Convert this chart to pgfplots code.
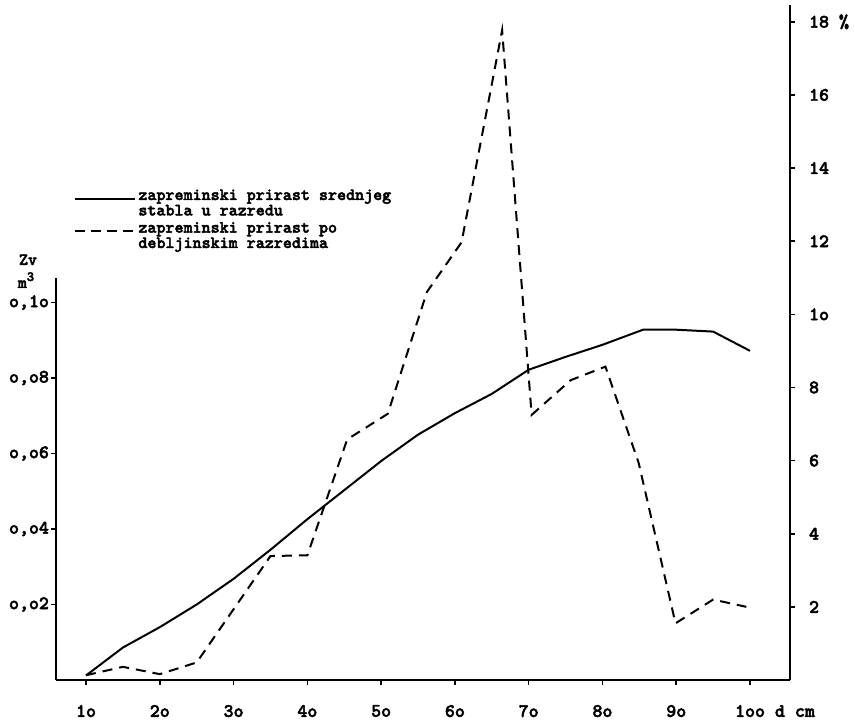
\documentclass[border=0pt]{standalone}
\usepackage{fontspec}
\newfontfamily\tw{lmmonolt10-bold}[Extension=.otf, FakeBold=2.5]
\usepackage{pgfplots}
\pgfplotsset{compat=1.18}
\begin{document}
\begin{tikzpicture}[font=\tw]
\useasboundingbox (0,0) rectangle (427.5pt,363.5pt);
\pgfplotsset{
  common/.style={
    at={(28pt,23.5pt)}, anchor=south west,
    scale only axis, width=367pt,
    xmin=5.93, xmax=105.42,
    axis line style={-, line width=1pt},
    tick style={line width=0.8pt, black},
    tick align=outside,
    major tick length=2.5pt,
    ticklabel style={font=\fontsize{9.5}{10}\selectfont\tw},
  }
}
\begin{axis}[common, height=201pt, ymin=0, ymax=0.1065,
  axis x line=none, axis y line*=left,
  ytick={0.02,0.04,0.06,0.08,0.10},
  yticklabels={{o,o2},{o,o4},{o,o6},{o,o8},{o,1o}},
  yticklabel style={xshift=2.5pt},
]
\addplot[black, line width=1pt] coordinates {
(10,0.0012) (15,0.0086) (20,0.0140) (25,0.0200) (30,0.0268) (35,0.0345)
(40,0.0426) (45,0.0503) (50,0.0580) (55,0.0650) (60,0.0707) (65,0.0758)
(70,0.0822) (75,0.0856) (80,0.0888) (85.5,0.0928) (90,0.0928) (95,0.0923) (100,0.0872)};
\end{axis}
\begin{axis}[common, height=337.5pt, ymin=0, ymax=18.46,
  axis x line*=bottom, axis y line*=right,
  xtick={10,20,...,100},
  xticklabels={1o,2o,3o,4o,5o,6o,7o,8o,9o,1oo\rlap{ d cm}},
  xticklabel style={yshift=-6.5pt},
  ytick={2,4,...,18},
  yticklabels={2,4,6,8,1o,12,14,16,18 \%},
  yticklabel style={xshift=3.5pt},
]
\addplot[black, line width=1pt, dash pattern=on 5pt off 3.5pt] coordinates {
(10,0.13) (15,0.36) (20,0.16) (25,0.48) (35,3.39) (40,3.41) (45.4,6.58)
(50.9,7.28) (56.2,10.61) (60.9,11.97) (66.4,17.77) (70.4,7.25) (75.7,8.20)
(80.4,8.57) (84.9,5.94) (89.9,1.55) (95,2.20) (99.5,2.00)};
\end{axis}
\begin{scope}[font=\fontsize{8.6}{9}\selectfont\tw]
\draw[line width=1pt] (37.5pt,264pt) -- (67.5pt,264pt);
\node[anchor=base west, inner sep=0] at (69pt,263.5pt) {zapreminski prirast srednjeg};
\node[anchor=base west, inner sep=0] at (69pt,255.8pt) {stabla u razredu};
\draw[line width=1pt, dash pattern=on 5pt off 3pt] (37.5pt,248pt) -- (67.5pt,248pt);
\node[anchor=base west, inner sep=0] at (69pt,247.2pt) {zapreminski prirast po};
\node[anchor=base west, inner sep=0] at (69pt,239.5pt) {debljinskim razredima};
\node[anchor=base, inner sep=0] at (14pt,231pt) {Zv};
\node[anchor=base, inner sep=0] at (13pt,219.5pt) {m\raisebox{3.5pt}{\fontsize{7}{7}\selectfont 3}};
\end{scope}
\end{tikzpicture}
\end{document}
